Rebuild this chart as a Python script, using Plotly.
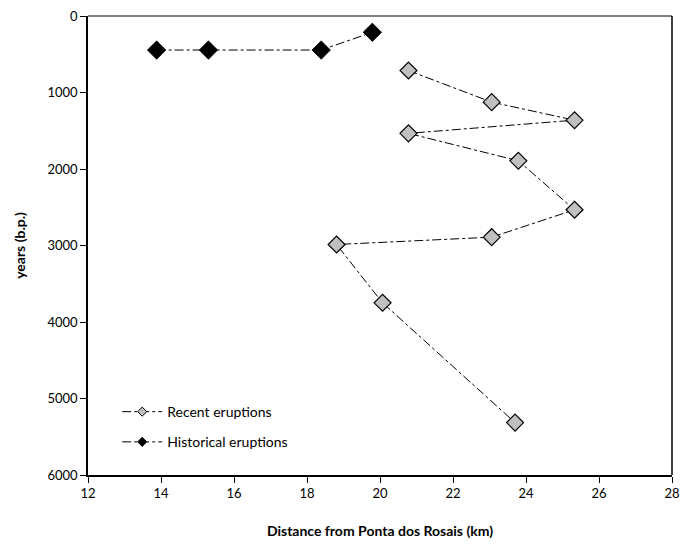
import plotly.graph_objects as go

recent_x = [20.78, 23.06, 25.33, 20.78, 23.79, 25.33, 23.06, 18.81, 20.07, 23.70]
recent_y = [713, 1126, 1362, 1534, 1893, 2533, 2891, 2987, 3749, 5315]
hist_x = [13.88, 15.30, 18.39, 19.79]
hist_y = [445, 445, 445, 213]

x_ticks = [12, 14, 16, 18, 20, 22, 24, 26, 28]
y_ticks = [0, 1000, 2000, 3000, 4000, 5000, 6000]

FONT = "Lato, 'Open Sans', sans-serif"

fig = go.Figure()
fig.add_trace(go.Scatter(
    x=recent_x, y=recent_y, mode="lines+markers", name="Recent eruptions",
    showlegend=False,
    line=dict(color="black", width=1, dash="dashdot"),
    marker=dict(symbol="diamond", size=13, color="#c0c0c0",
                line=dict(color="black", width=1.2)),
))
fig.add_trace(go.Scatter(
    x=hist_x, y=hist_y, mode="lines+markers", name="Historical eruptions",
    showlegend=False,
    line=dict(color="black", width=1, dash="dashdot"),
    marker=dict(symbol="diamond", size=14, color="black",
                line=dict(color="black", width=1)),
))
# legend entries with smaller legend symbols
fig.add_trace(go.Scatter(
    x=[None], y=[None], mode="lines+markers", name="Recent eruptions",
    legendgroup="a",
    line=dict(color="black", width=1, dash="dashdot"),
    marker=dict(symbol="diamond", size=7, color="#c0c0c0",
                line=dict(color="black", width=1)),
))
fig.add_trace(go.Scatter(
    x=[None], y=[None], mode="lines+markers", name="Historical eruptions",
    legendgroup="b",
    line=dict(color="black", width=1, dash="dashdot"),
    marker=dict(symbol="diamond", size=7, color="black",
                line=dict(color="black", width=1)),
))

fig.update_layout(
    width=683, height=545,
    margin=dict(l=88, r=11, t=16, b=70, autoexpand=False),
    paper_bgcolor="white", plot_bgcolor="white",
    font=dict(family=FONT, size=12, color="black"),
    showlegend=True,
    legend=dict(x=0.05, y=0.172, xanchor="left", yanchor="top",
                bgcolor="rgba(0,0,0,0)", font=dict(size=14, family=FONT),
                tracegroupgap=9, itemwidth=40),
    xaxis=dict(range=[12, 28], tickvals=x_ticks, showgrid=False, zeroline=False,
               automargin=False,
               showline=True, linecolor="black", linewidth=1.5, mirror=False,
               ticks="outside", ticklen=6, tickcolor="black",
               tickfont=dict(size=13),
               title=dict(text="<b>Distance from Ponta dos Rosais (km)</b>",
                          font=dict(size=14), standoff=26)),
    yaxis=dict(range=[6000, 0], tickvals=y_ticks, showgrid=False, zeroline=False,
               automargin=False,
               showline=True, linecolor="black", linewidth=1.5, mirror=False,
               ticks="outside", ticklen=6, tickcolor="black",
               tickfont=dict(size=13),
               title=dict(text="<b>years (b.p.)</b>", font=dict(size=14), standoff=19)),
    shapes=[
        dict(type="line", xref="paper", yref="paper", x0=0, x1=1, y0=1, y1=1,
             line=dict(color="#808080", width=2)),
        dict(type="line", xref="paper", yref="paper", x0=1, x1=1, y0=0, y1=1,
             line=dict(color="black", width=1.5)),
    ],
)

fig.write_html("out.html", config={"displayModeBar": False},
               post_script="document.body.style.margin='0';document.body.style.overflow='hidden';")
